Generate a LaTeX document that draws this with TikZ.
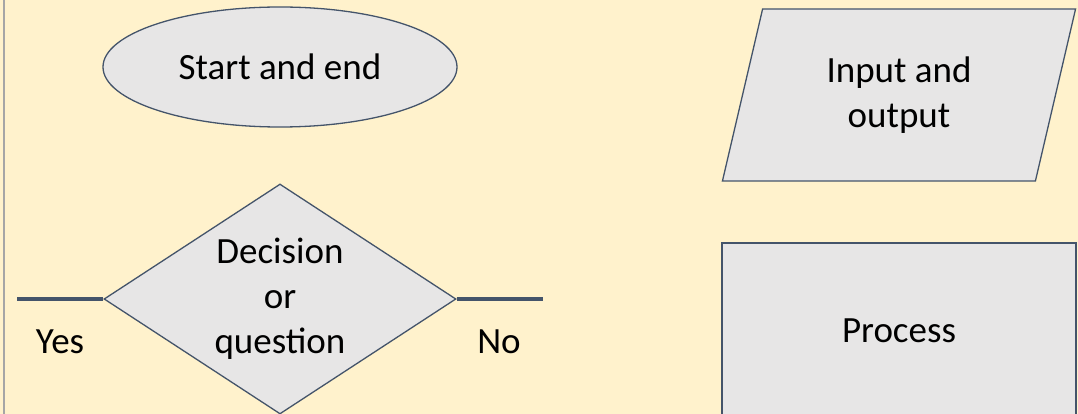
\documentclass[tikz,border=0pt]{standalone}
\usepackage{fontspec}
\setmainfont{Carlito}
\usetikzlibrary{shapes.geometric}
\definecolor{bgyellow}{HTML}{FFF2CC}
\definecolor{shapegray}{HTML}{E7E6E6}
\definecolor{edgeblue}{HTML}{44546A}
\definecolor{framegray}{HTML}{A6A6A6}

\begin{document}
\begin{tikzpicture}[x=1pt, y=-1pt, every node/.style={draw=edgeblue, fill=shapegray, line width=1.3pt, align=center, font={\fontsize{37}{45}\selectfont}}]
    % Background
    \clip (0,0) rectangle (1078,414);
    \fill[bgyellow] (0,0) rectangle (1078,414);
    \draw[framegray, line width=2pt] (4,0) -- (4,414);

    % Nodes
    \node (Start) [ellipse, minimum width=354pt, minimum height=120pt] at (280,67) {Start and end};
    \node (Decision) [diamond, inner sep=0pt, aspect=1.53, minimum width=352pt, minimum height=230pt, node distance=232pt, below of=Start] {Decision\\or\\question};
    \node (InOut) [trapezium, trapezium left angle=75, trapezium right angle=105, trapezium stretches=true, minimum width=354pt, minimum height=172pt] at (899,95) {Input and\\output};
    \node (Process) [rectangle, minimum width=354pt, minimum height=176pt, node distance=236pt, below of=InOut] {Process};
    \node (Yes) [draw=none, fill=none] at (60,342) {Yes};
    \node (No) [draw=none, fill=none] at (499,342) {No};

    % Lines
    \coordinate (YesEnd) at (17,299);
    \coordinate (NoEnd) at (543,299);
    \draw[edgeblue, line width=4pt] (Decision.west) -- (YesEnd);
    \draw[edgeblue, line width=4pt] (Decision.east) -- (NoEnd);
\end{tikzpicture}
\end{document}
